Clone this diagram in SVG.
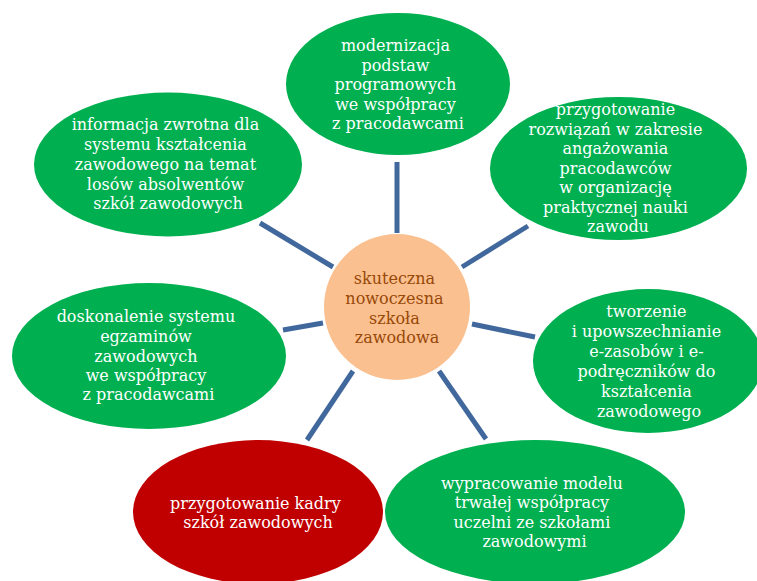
<svg xmlns="http://www.w3.org/2000/svg" width="757" height="581" viewBox="0 0 757 581">
  <style>
    .spoke { stroke: #41689C; stroke-width: 5; fill: none; }
    .green { fill: #00B050; }
    .red { fill: #C00000; }
    .hub { fill: #FAC090; }
    .lbl { font-family: "DejaVu Serif", "Liberation Serif", serif; font-size: 16px; text-anchor: middle; fill: #FFFFFF; }
    .hub-lbl { fill: #984807; }
  </style>
  <rect width="757" height="581" fill="#FFFFFF"/>

  <!-- spokes from the hub to each goal -->
  <g id="connectors">
    <line class="spoke" x1="397" y1="162" x2="397" y2="233"/>
    <line class="spoke" x1="260" y1="223" x2="333" y2="267"/>
    <line class="spoke" x1="528" y1="226" x2="462" y2="267"/>
    <line class="spoke" x1="283" y1="330" x2="323" y2="323"/>
    <line class="spoke" x1="472" y1="324" x2="535" y2="337"/>
    <line class="spoke" x1="353" y1="371" x2="307" y2="440"/>
    <line class="spoke" x1="439" y1="371" x2="486" y2="439"/>
  </g>

  <g id="hub">
    <circle class="hub" cx="397" cy="307" r="73"/>
    <text class="lbl hub-lbl">
      <tspan x="397" y="284">skuteczna</tspan>
      <tspan x="397" y="304">nowoczesna</tspan>
      <tspan x="397" y="324">szkoła</tspan>
      <tspan x="397" y="343">zawodowa</tspan>
    </text>
  </g>

  <g id="node-top">
    <ellipse class="green" cx="398" cy="84" rx="112" ry="71"/>
    <text class="lbl">
      <tspan x="398" y="51">modernizacja</tspan>
      <tspan x="398" y="70.5">podstaw</tspan>
      <tspan x="398" y="90">programowych</tspan>
      <tspan x="398" y="109.5">we współpracy</tspan>
      <tspan x="398" y="129">z pracodawcami</tspan>
    </text>
  </g>

  <g id="node-top-left">
    <ellipse class="green" cx="168" cy="164.5" rx="134" ry="72"/>
    <text class="lbl">
      <tspan x="168" y="130">informacja zwrotna dla</tspan>
      <tspan x="168" y="150">systemu kształcenia</tspan>
      <tspan x="168" y="170">zawodowego na temat</tspan>
      <tspan x="168" y="189.5">losów absolwentów</tspan>
      <tspan x="168" y="209">szkół zawodowych</tspan>
    </text>
  </g>

  <g id="node-top-right">
    <ellipse class="green" cx="618.5" cy="168.5" rx="128.5" ry="71.5"/>
    <text class="lbl">
      <tspan x="618" y="115">przygotowanie</tspan>
      <tspan x="618" y="135">rozwiązań w zakresie</tspan>
      <tspan x="618" y="154">angażowania</tspan>
      <tspan x="618" y="174">pracodawców</tspan>
      <tspan x="618" y="193">w organizację</tspan>
      <tspan x="618" y="213">praktycznej nauki</tspan>
      <tspan x="618" y="232">zawodu</tspan>
    </text>
  </g>

  <g id="node-left">
    <ellipse class="green" cx="149" cy="356" rx="137" ry="73"/>
    <text class="lbl">
      <tspan x="148.5" y="322">doskonalenie systemu</tspan>
      <tspan x="148.5" y="342">egzaminów</tspan>
      <tspan x="148.5" y="361.5">zawodowych</tspan>
      <tspan x="148.5" y="381">we współpracy</tspan>
      <tspan x="148.5" y="400">z pracodawcami</tspan>
    </text>
  </g>

  <g id="node-right">
    <ellipse class="green" cx="648" cy="361" rx="115" ry="72"/>
    <text class="lbl">
      <tspan x="649" y="317">tworzenie</tspan>
      <tspan x="649" y="337">i upowszechnianie</tspan>
      <tspan x="649" y="357">e-zasobów i e-</tspan>
      <tspan x="649" y="377">podręczników do</tspan>
      <tspan x="649" y="397">kształcenia</tspan>
      <tspan x="649" y="416.5">zawodowego</tspan>
    </text>
  </g>

  <g id="node-bottom-left">
    <ellipse class="red" cx="258" cy="512" rx="125" ry="72"/>
    <text class="lbl">
      <tspan x="258" y="509">przygotowanie kadry</tspan>
      <tspan x="258" y="528">szkół zawodowych</tspan>
    </text>
  </g>

  <g id="node-bottom-right">
    <ellipse class="green" cx="535" cy="512" rx="150" ry="72"/>
    <text class="lbl">
      <tspan x="534.5" y="489">wypracowanie modelu</tspan>
      <tspan x="534.5" y="508">trwałej współpracy</tspan>
      <tspan x="534.5" y="528">uczelni ze szkołami</tspan>
      <tspan x="534.5" y="547">zawodowymi</tspan>
    </text>
  </g>
</svg>
